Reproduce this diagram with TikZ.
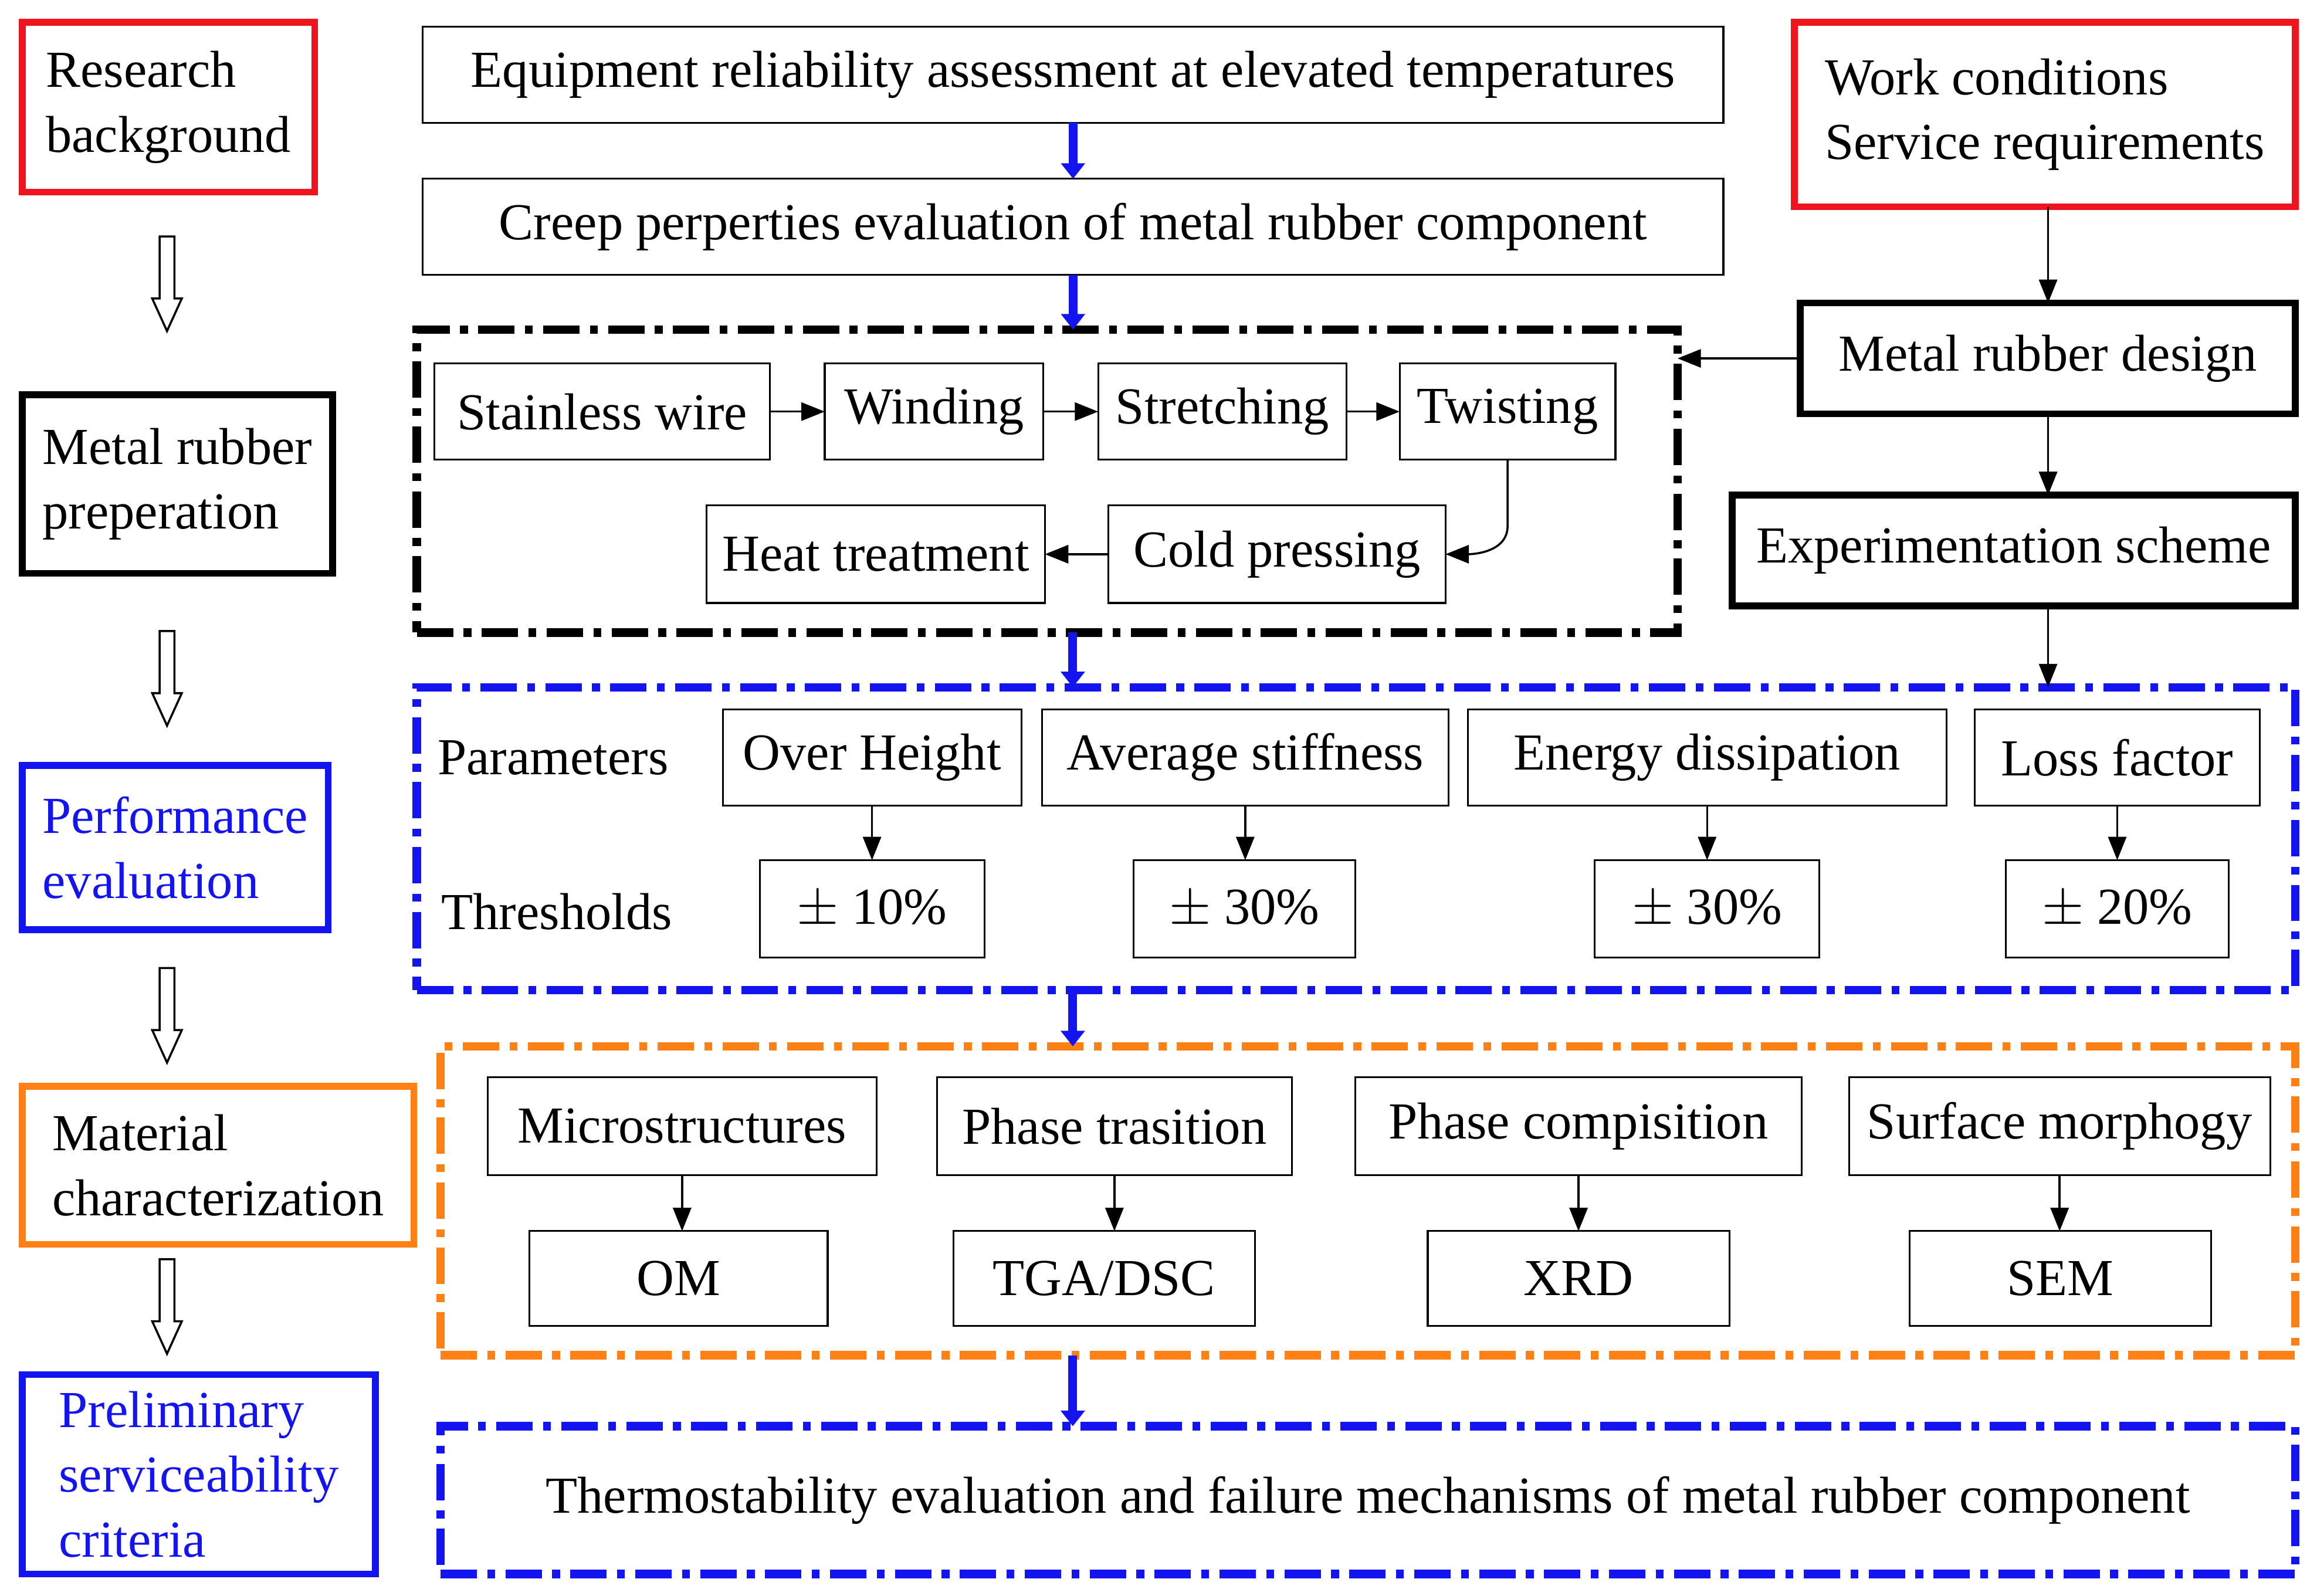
\documentclass[tikz,border=0pt]{standalone}
\usepackage{fontspec}
\setmainfont{Liberation Serif}
\usetikzlibrary{arrows.meta}
\definecolor{rd}{RGB}{240,20,30}
\definecolor{bl}{RGB}{20,20,240}
\definecolor{og}{RGB}{255,128,20}
\newcommand\Bx[7]{\node[#6, minimum width={(#4-#2)*0.02cm}, minimum height={(#5-#3)*0.02cm}] (#1) at ({(#2+#4)/2*0.02},{-(#3+#5)/2*0.02}) {#7};}
\begin{document}
\begin{tikzpicture}[font=\fontsize{20}{25}\selectfont,
 base/.style={draw, inner sep=0pt, outer sep=0pt, align=left},
 thin/.style={base, line width=0.7pt},
 thick/.style={base, line width=2.6pt},
 frame/.style={base, line width=3.2pt, dash pattern=on 14pt off 4pt on 3pt off 4pt},
 barr/.style={draw=bl, line width=3.4pt, -{Triangle[length=6pt,width=9pt]}},
 karr/.style={draw, line width=0.8pt, -{Triangle[length=9pt,width=7pt]}},
 hol/.style={draw, line width=0.8pt, fill=white}]
\useasboundingbox (0,0) rectangle (31.36,-21.6);
% left column
\Bx{rb}{15}{15}{213}{130}{thick,draw=rd}{Research\\background}
\Bx{mp}{15}{267}{225}{388}{thick}{Metal rubber\\preperation}
\Bx{pe}{15}{518}{222}{629}{thick,draw=bl,text=bl}{Performance\\evaluation}
\Bx{mc}{15}{735}{280}{842}{thick,draw=og}{Material\\characterization}
\Bx{ps}{15}{930}{254}{1065}{thick,draw=bl,text=bl}{Preliminary\\serviceability\\criteria}
\foreach \y in {160,427,655,852}{
 \draw[hol] ({(113-5)*0.02},{-\y*0.02}) -- ({(113+5)*0.02},{-\y*0.02}) -- ({(113+5)*0.02},{-(\y+42)*0.02}) -- ({(113+10)*0.02},{-(\y+42)*0.02}) -- ({113*0.02},{-(\y+64)*0.02}) -- ({(113-10)*0.02},{-(\y+42)*0.02}) -- ({(113-5)*0.02},{-(\y+42)*0.02}) -- cycle;}
% middle
\Bx{eq}{286}{18}{1166}{83}{thin}{Equipment reliability assessment at elevated temperatures}
\Bx{cr}{286}{121}{1166}{186}{thin}{Creep perperties evaluation of metal rubber component}
\Bx{f1}{282}{223}{1135}{428}{frame}{}
\Bx{sw}{294}{246}{521}{311}{thin}{Stainless wire}
\Bx{wi}{558}{246}{706}{311}{thin}{Winding}
\Bx{st}{743}{246}{911}{311}{thin}{Stretching}
\Bx{tw}{947}{246}{1093}{311}{thin}{Twisting}
\Bx{cp}{750}{342}{978}{408}{thin}{Cold pressing}
\Bx{ht}{478}{342}{707}{408}{thin}{Heat treatment}
\draw[karr] (sw) -- (wi); \draw[karr] (wi) -- (st); \draw[karr] (st) -- (tw);
\draw[karr] (tw.south) -- ++(0,-0.9) to[out=-90,in=0] (cp.east);
\draw[karr] (cp) -- (ht);
\Bx{f2}{282}{465}{1553}{670}{frame,draw=bl}{}
\node[anchor=west] (par) at (5.8,-10.26) {Parameters};
\node[anchor=west] (thr) at (5.85,-12.34) {Thresholds};
\Bx{p1}{489}{480}{691}{545}{thin}{Over Height}
\Bx{p2}{705}{480}{980}{545}{thin}{Average stiffness}
\Bx{p3}{993}{480}{1317}{545}{thin}{Energy dissipation}
\Bx{p4}{1336}{480}{1529}{545}{thin}{Loss factor}
\Bx{t1}{514}{582}{666}{648}{thin}{$\pm$ 10\%}
\Bx{t2}{767}{582}{917}{648}{thin}{$\pm$ 30\%}
\Bx{t3}{1079}{582}{1231}{648}{thin}{$\pm$ 30\%}
\Bx{t4}{1357}{582}{1508}{648}{thin}{$\pm$ 20\%}
\foreach \i in {1,...,4}{\draw[karr] (p\i.south) -- (p\i.south |- t\i.north);}
\Bx{f3}{298}{708}{1553}{917}{frame,draw=og}{}
\Bx{m1}{330}{729}{593}{795}{thin}{Microstructures}
\Bx{m2}{634}{729}{874}{795}{thin}{Phase trasition}
\Bx{m3}{917}{729}{1219}{795}{thin}{Phase compisition}
\Bx{m4}{1251}{729}{1536}{795}{thin}{Surface morphogy}
\Bx{o1}{358}{833}{560}{897}{thin}{OM}
\Bx{o2}{645}{833}{849}{897}{thin}{TGA/DSC}
\Bx{o3}{966}{833}{1170}{897}{thin}{XRD}
\Bx{o4}{1292}{833}{1496}{897}{thin}{SEM}
\foreach \i in {1,...,4}{\draw[karr] (m\i.south) -- (m\i.south |- o\i.north);}
\Bx{f4}{298}{965}{1553}{1065}{frame,draw=bl}{Thermostability evaluation and failure mechanisms of metal rubber component}
\coordinate (bx) at (14.52,0);
\draw[barr] (eq.south) -- (cr.north);
\draw[barr] (cr.south) -- (cr.south |- f1.north);
\draw[barr] (bx |- f1.south) -- (bx |- f2.north);
\draw[barr] (bx |- f2.south) -- (bx |- f3.north);
\draw[barr] (bx |- f3.south) -- (bx |- f4.north);
% right
\Bx{wc}{1214}{15}{1553}{140}{thick,draw=rd}{Work conditions\\Service requirements}
\Bx{md}{1218}{205}{1553}{280}{thick}{Metal rubber design}
\Bx{es}{1172}{335}{1553}{410}{thick}{Experimentation scheme}
\coordinate (rx) at (27.72,0);
\draw[karr] (rx |- wc.south) -- (rx |- md.north);
\draw[karr] (rx |- md.south) -- (rx |- es.north);
\draw[karr] (rx |- es.south) -- (rx |- f2.north);
\draw[karr] (md.west) -- (md.west -| f1.east);
\end{tikzpicture}
\end{document}
